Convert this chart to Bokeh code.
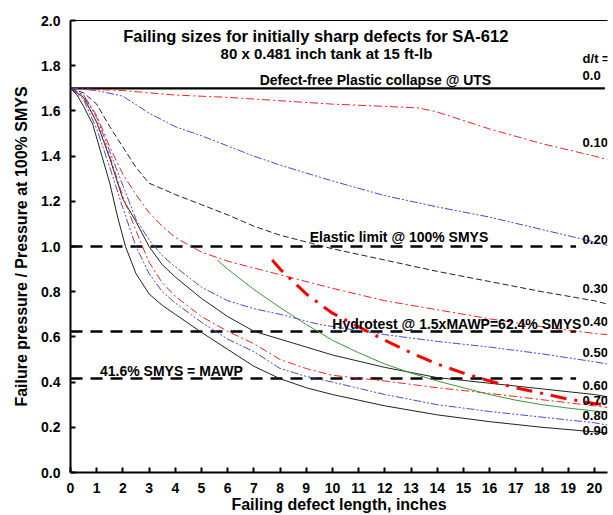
from bokeh.plotting import figure
from bokeh.models import FixedTicker, LinearAxis, Label, Range1d, NumeralTickFormatter
from bokeh.embed import file_html
from bokeh.resources import INLINE

# ---------------- data ----------------
x_dt10 = [0, 2, 4, 6, 8, 10, 12, 13.3, 14, 16, 18, 20, 20.5]
y_dt10 = [1.70, 1.69, 1.67, 1.66, 1.645, 1.63, 1.62, 1.613, 1.595, 1.52, 1.455, 1.40, 1.385]

x_dt20 = [0, 1, 2, 3, 4, 5, 6, 7, 8, 10, 12, 14, 16, 18, 20, 20.5]
y_dt20 = [1.70, 1.69, 1.665, 1.59, 1.53, 1.49, 1.445, 1.40, 1.36, 1.29, 1.225, 1.175, 1.13, 1.075, 1.02, 1.005]

x_dt30 = [0, 0.5, 1, 1.5, 2, 2.5, 3, 4, 5, 6, 7, 8, 10, 12, 14, 16, 18, 20, 20.5]
y_dt30 = [1.70, 1.68, 1.63, 1.53, 1.44, 1.35, 1.28, 1.23, 1.185, 1.14, 1.09, 1.05, 0.99, 0.94, 0.89, 0.845, 0.80, 0.76, 0.745]

x_dt40 = [0, 0.5, 1, 1.5, 2, 2.5, 3, 3.5, 4, 5, 6, 7, 8, 10, 12, 14, 16, 18, 20, 20.5]
y_dt40 = [1.70, 1.67, 1.58, 1.44, 1.32, 1.23, 1.15, 1.09, 1.04, 0.975, 0.935, 0.905, 0.875, 0.815, 0.76, 0.72, 0.68, 0.645, 0.615, 0.61]

x_dt50 = [0, 0.5, 1, 1.5, 2, 2.5, 3, 3.5, 4, 5, 6, 7, 8, 9.5, 12, 14, 16, 18, 20, 20.5]
y_dt50 = [1.70, 1.67, 1.57, 1.42, 1.27, 1.12, 1.03, 0.96, 0.91, 0.82, 0.76, 0.725, 0.70, 0.655, 0.61, 0.58, 0.555, 0.525, 0.49, 0.48]

x_dt60 = [0, 0.5, 1, 1.5, 2, 2.5, 3, 3.5, 4, 5, 6, 7, 8, 9, 10, 12, 14, 16, 18, 20, 20.5]
y_dt60 = [1.70, 1.66, 1.55, 1.39, 1.21, 1.11, 1.0, 0.92, 0.865, 0.77, 0.69, 0.625, 0.59, 0.555, 0.52, 0.465, 0.42, 0.395, 0.37, 0.345, 0.335]

x_dt70 = [0, 0.5, 1, 1.5, 2, 2.5, 3, 3.5, 4, 5, 6, 7, 8, 9, 10, 12, 14, 16, 18, 20, 20.5]
y_dt70 = [1.70, 1.66, 1.55, 1.40, 1.22, 1.07, 0.93, 0.84, 0.78, 0.69, 0.625, 0.57, 0.50, 0.46, 0.43, 0.405, 0.375, 0.35, 0.322, 0.295, 0.288]

x_dt80 = [0, 0.5, 1, 1.5, 2, 2.5, 3, 3.5, 4, 5, 6, 7, 8, 9, 10, 12, 14, 16, 18, 20, 20.5]
y_dt80 = [1.70, 1.65, 1.52, 1.35, 1.17, 1.0, 0.88, 0.80, 0.75, 0.665, 0.59, 0.535, 0.46, 0.425, 0.40, 0.345, 0.30, 0.27, 0.245, 0.22, 0.21]

x_dt90 = [0, 0.25, 0.5, 0.85, 1.2, 1.5, 1.8, 2.1, 2.5, 3, 3.5, 4, 5, 6, 7, 8, 9, 10, 12, 14, 16, 18, 20, 20.5]
y_dt90 = [1.70, 1.67, 1.62, 1.54, 1.40, 1.28, 1.13, 1.0, 0.88, 0.79, 0.74, 0.70, 0.62, 0.545, 0.47, 0.415, 0.375, 0.345, 0.295, 0.255, 0.225, 0.20, 0.18, 0.175]

x_green = [5.6, 6, 7, 8, 9, 10, 11, 12, 13, 14, 15, 16, 17, 18, 19, 20, 20.5]
y_green = [0.94, 0.90, 0.81, 0.73, 0.655, 0.585, 0.53, 0.48, 0.44, 0.405, 0.375, 0.345, 0.32, 0.30, 0.285, 0.272, 0.267]

x_red_thick = [7.7, 8, 9, 10, 11, 12, 13, 14, 15, 16, 17, 18, 19, 20, 20.4]
y_red_thick = [0.94, 0.90, 0.79, 0.705, 0.645, 0.585, 0.53, 0.48, 0.44, 0.405, 0.375, 0.35, 0.325, 0.305, 0.30]

uts_level = 1.70
ref_levels = [1.0, 0.624, 0.416]
ref_labels = ["Elastic limit @ 100% SMYS", "Hydrotest @ 1.5xMAWP=62.4% SMYS", "41.6% SMYS = MAWP"]
ref_label_x = [12.54, 14.75, 3.85]
ref_label_y = [1.04, 0.658, 0.449]

dt_labels = ["0.10", "0.20", "0.30", "0.40", "0.50", "0.60", "0.70", "0.80", "0.90"]
dt_label_y = [1.458, 1.031, 0.813, 0.667, 0.529, 0.387, 0.32, 0.253, 0.187]

x_ticks = list(range(0, 21))
y_ticks = [0.0, 0.2, 0.4, 0.6, 0.8, 1.0, 1.2, 1.4, 1.6, 1.8, 2.0]

# ---------------- figure ----------------
FONT = "Liberation Sans"
p = figure(width=613, height=515, output_backend="svg", toolbar_location=None,
           x_range=Range1d(0, 20.5), y_range=Range1d(0, 2.0),
           min_border_left=70, min_border_top=20, min_border_right=6, min_border_bottom=0)
p.outline_line_color = None
p.xgrid.visible = False
p.ygrid.visible = False
p.background_fill_color = "white"

for ax in (p.xaxis[0], p.yaxis[0]):
    ax.axis_line_width = 2
    ax.axis_line_color = "black"
    ax.major_tick_in = 5
    ax.major_tick_out = 0
    ax.major_tick_line_width = 2
    ax.minor_tick_line_color = None
    ax.major_label_text_font = FONT
    ax.major_label_text_font_style = "bold"
    ax.major_label_text_font_size = "14px"
    ax.major_label_text_color = "black"
    ax.axis_label_text_font = FONT
    ax.axis_label_text_font_style = "bold"
    ax.axis_label_text_font_size = "16px"
    ax.axis_label_text_color = "black"

p.xaxis.ticker = FixedTicker(ticks=x_ticks)
p.yaxis.ticker = FixedTicker(ticks=y_ticks)
p.yaxis.formatter = NumeralTickFormatter(format="0.0")
p.xaxis.axis_label = "Failing defect length, inches"
p.yaxis.axis_label = "Failure pressure / Pressure at 100% SMYS"
p.xaxis.major_label_standoff = 10
p.xaxis.axis_label_standoff = 0
p.yaxis.major_label_standoff = 10
p.yaxis.axis_label_standoff = 8

top = LinearAxis(axis_line_width=1, axis_line_color="black",
                 major_tick_line_color=None, minor_tick_line_color=None,
                 major_label_text_font_size="0px", ticker=FixedTicker(ticks=[]))
p.add_layout(top, "above")

RED = "#f02020"
BLUE = "#4a4ad0"
BLACK = "#222222"

# d/t = 0.0 line
p.line([0, 20.4], [uts_level, uts_level], line_color="black", line_width=2.2)

# reference dashed lines
for lv in ref_levels:
    p.line([0, 19.3], [lv, lv], line_color="black", line_width=2.6, line_dash="12 8")

p.line(x_dt10, y_dt10, line_color=RED, line_width=1, line_dash="8 3 2 3")
p.line(x_dt20, y_dt20, line_color=BLUE, line_width=1, line_dash="8 2 2 2 2 2")
p.line(x_dt30, y_dt30, line_color=BLACK, line_width=1, line_dash="6 3")
p.line(x_dt40, y_dt40, line_color=RED, line_width=1, line_dash="8 3 2 3")
p.line(x_dt50, y_dt50, line_color=BLUE, line_width=1, line_dash="8 2 2 2 2 2")
p.line(x_dt60, y_dt60, line_color=BLACK, line_width=1)
p.line(x_dt70, y_dt70, line_color=RED, line_width=1, line_dash="8 3 2 3")
p.line(x_dt80, y_dt80, line_color=BLUE, line_width=1, line_dash="8 2 2 2 2 2")
p.line(x_dt90, y_dt90, line_color=BLACK, line_width=1)
p.line(x_green, y_green, line_color="#3a9a3a", line_width=1)
p.line(x_red_thick, y_red_thick, line_color="#ff0000", line_width=3, line_dash="16 8 3 8")

def lab(x, y, t, size, style="bold", align="center", baseline="middle"):
    p.add_layout(Label(x=x, y=y, text=t, text_font=FONT, text_font_size=size,
                       text_font_style=style, text_align=align, text_baseline=baseline,
                       text_color="black"))

lab(9.45, 1.933, "Failing sizes for initially  sharp defects for SA-612", "16.5px")
lab(9.77, 1.853, "80 x 0.481 inch tank at 15 ft-lb", "15px")
lab(11.64, 1.737, "Defect-free Plastic collapse @ UTS", "14px")
for t, x, y in zip(ref_labels, ref_label_x, ref_label_y):
    lab(x, y, t, "14px")

lab(19.55, 1.83, "d/t =", "13px", align="left")
lab(19.55, 1.755, "0.0", "13px", align="left")
for t, y in zip(dt_labels, dt_label_y):
    lab(19.55, y, t, "13px", align="left")

open("out.html", "w").write(file_html(p, INLINE))
